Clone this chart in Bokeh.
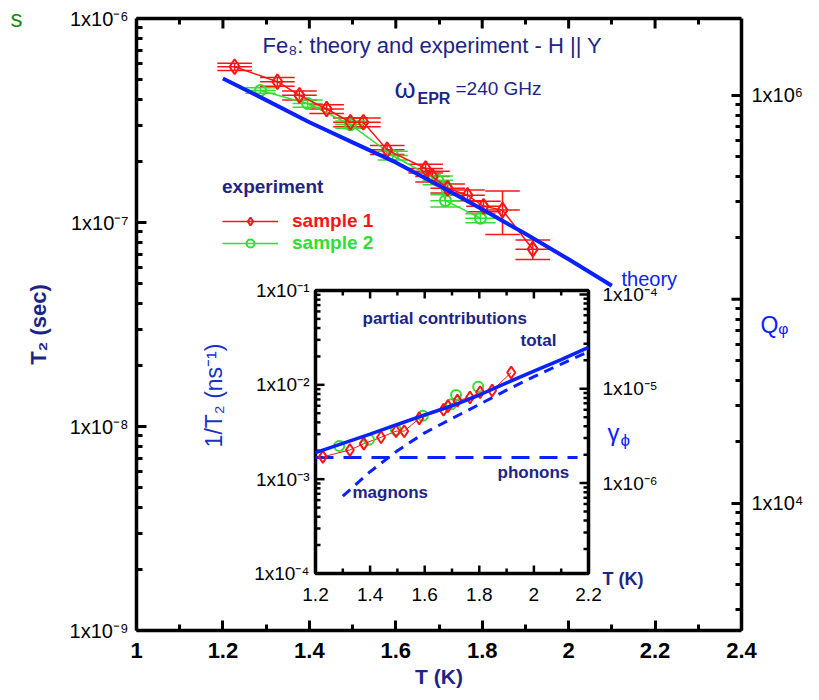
import numpy as np
from bokeh.plotting import figure
from bokeh.models import (Range1d, LogAxis, LinearAxis, FixedTicker, CustomJSTickFormatter,
                          Legend, LegendItem, LogScale)
from bokeh.core.properties import value
from bokeh.embed import file_html
from bokeh.resources import INLINE

# ---------------- data ----------------
s1_T = [1.227, 1.326, 1.377, 1.440, 1.495, 1.525, 1.580, 1.669, 1.685, 1.720, 1.766, 1.803, 1.847, 1.917]
s1_T2 = [5.8e-7, 4.9e-7, 4.2e-7, 3.6e-7, 3.1e-7, 3.1e-7, 2.27e-7, 1.84e-7, 1.68e-7, 1.47e-7, 1.36e-7, 1.2e-7, 1.15e-7, 7.4e-8]
s1_rel_err = [0.04, 0.05, 0.05, 0.05, 0.05, 0.05, 0.05, 0.05, 0.06, 0.05, 0.06, 0.06, 0.24, 0.11]
s1_dT = 0.04

s2_T = [1.287, 1.396, 1.495, 1.593, 1.697, 1.715, 1.796]
s2_T2 = [4.44e-7, 3.83e-7, 3.02e-7, 2.13e-7, 1.61e-7, 1.28e-7, 1.05e-7]
s2_rel_err = [0.03, 0.04, 0.04, 0.05, 0.05, 0.07, 0.05]
s2_dT = 0.035

theory_T = [1.2, 1.3, 1.4, 1.5, 1.6, 1.7, 1.8, 1.9, 2.0, 2.1]
theory_T2 = [5.08e-7, 3.98e-7, 3.1e-7, 2.47e-7, 1.97e-7, 1.52e-7, 1.16e-7, 8.8e-8, 6.6e-8, 4.9e-8]

inset_T = [1.2, 1.3, 1.4, 1.5, 1.6, 1.7, 1.8, 1.9, 2.0, 2.1, 2.2]
inset_total = [1.91e-3, 2.4e-3, 3.0e-3, 3.8e-3, 4.8e-3, 6.0e-3, 7.8e-3, 1.05e-2, 1.4e-2, 1.85e-2, 2.49e-2]
magnon_T = [1.3, 1.4, 1.5, 1.6, 1.7, 1.8, 1.9, 2.0, 2.1, 2.2]
magnon_rate = [6.6e-4, 1.2e-3, 2.0e-3, 3.1e-3, 4.4e-3, 6.2e-3, 8.8e-3, 1.22e-2, 1.66e-2, 2.25e-2]
phonon_T = [1.2, 2.16]
phonon_rate = [1.7e-3, 1.7e-3]

Q_PER_T2 = 2.38e12        # Q_phi scale factor (right axis)
GAMMA_PER_RATE = 1.1e-3   # gamma_phi scale factor (inset right axis)

main_x_ticks = [1.0, 1.2, 1.4, 1.6, 1.8, 2.0, 2.2, 2.4]
main_x_minor = [1.1, 1.3, 1.5, 1.7, 1.9, 2.1, 2.3]
main_y_ticks = [1e-9, 1e-8, 1e-7, 1e-6]
q_labelled = [1e4, 1e6]
q_unlabelled = [1e5]
inset_x_ticks = [1.2, 1.4, 1.6, 1.8, 2.0, 2.2]
inset_x_minor = [1.3, 1.5, 1.7, 1.9, 2.1]
inset_y_ticks = [1e-4, 1e-3, 1e-2, 1e-1]
gamma_ticks = [1e-6, 1e-5, 1e-4]

# ---------------- layout constants (pixels) ----------------
W, H = 819, 700
FL, FR, FT, FB = 136, 741, 18, 630
IL, IR, IT, IB = 315, 588, 290, 573

NAVY = "#1c2585"
BLUE = "#0a22ff"
RED = "#ff1414"
GREEN = "#33dd33"
FONT = value("Liberation Sans")
LW = 3.5

SUP = {"-": "\u207b", "0": "\u2070", "1": "\u00b9", "2": "\u00b2", "3": "\u00b3",
       "4": "\u2074", "5": "\u2075", "6": "\u2076", "7": "\u2077", "8": "\u2078", "9": "\u2079"}


def pow_label(v):
    e = int(round(np.log10(v)))
    return "1x10" + "".join(SUP[c] for c in str(e))


def minor_logs(lo_exp, hi_exp):
    return [k * 10.0 ** e for e in range(lo_exp, hi_exp) for k in range(2, 10)]


x0, x1 = 1.0, 2.4
y0, y1 = 1e-9, 1e-6


def mx(px):
    return x0 + (px - FL) / (FR - FL) * (x1 - x0)


def my(py):
    return 10 ** (np.log10(y1) - (py - FT) / (FB - FT) * (np.log10(y1) - np.log10(y0)))


# inset ranges mapped over the full frame
ipx = (IR - IL) / (2.2 - 1.2)
ix_start = 1.2 - (IL - FL) / ipx
ix_end = 2.2 + (FR - IR) / ipx
dec_px = (IB - IT) / 3.0
iy_top = -1 + (IT - FT) / dec_px
iy_bot = -4 - (FB - IB) / dec_px

p = figure(width=W, height=H, x_range=Range1d(x0, x1), y_range=Range1d(y0, y1),
           y_axis_type="log", output_backend="svg", toolbar_location=None,
           min_border_left=FL, min_border_right=W - FR, min_border_top=FT,
           min_border_bottom=H - FB)
p.outline_line_color = None
p.xgrid.visible = False
p.ygrid.visible = False
p.background_fill_color = "white"

p.extra_x_ranges = {"ix": Range1d(ix_start, ix_end)}
p.extra_y_ranges = {"Q": Range1d(y0 * Q_PER_T2, y1 * Q_PER_T2),
                    "iy": Range1d(10 ** iy_bot, 10 ** iy_top),
                    "ig": Range1d(10 ** iy_bot * GAMMA_PER_RATE, 10 ** iy_top * GAMMA_PER_RATE)}
p.extra_y_scales = {"Q": LogScale(), "iy": LogScale(), "ig": LogScale()}

pow_js = """
const sup = {"-":"\u207b","0":"\u2070","1":"\u00b9","2":"\u00b2","3":"\u00b3","4":"\u2074","5":"\u2075","6":"\u2076","7":"\u2077","8":"\u2078","9":"\u2079"};
const e = Math.round(Math.log10(tick));
return "1x10" + String(e).split("").map(c => sup[c]).join("");
"""


def style_axis(ax):
    ax.axis_line_width = LW
    ax.axis_line_color = "black"
    ax.major_tick_in = 10
    ax.major_tick_out = 0
    ax.minor_tick_in = 6
    ax.minor_tick_out = 0
    ax.major_tick_line_width = 3
    ax.minor_tick_line_width = 3
    ax.major_label_text_font = "Liberation Sans"
    ax.major_label_text_color = "black"


# bottom axis
xa = p.xaxis[0]
xa.ticker = FixedTicker(ticks=main_x_ticks, minor_ticks=main_x_minor)
xa.formatter = CustomJSTickFormatter(code="return String(Math.round(tick*10)/10);")
style_axis(xa)
xa.major_label_text_font_size = "22px"
xa.major_label_text_font_style = "bold"
xa.major_label_standoff = 12
xa.axis_label = "T (K)"
xa.axis_label_text_font = "Liberation Sans"
xa.axis_label_text_font_size = "21px"
xa.axis_label_text_font_style = "bold"
xa.axis_label_text_color = NAVY
xa.axis_label_standoff = 4

# left axis
ya = p.yaxis[0]
ya.ticker = FixedTicker(ticks=main_y_ticks, minor_ticks=minor_logs(-9, -6))
ya.formatter = CustomJSTickFormatter(code=pow_js)
style_axis(ya)
ya.major_label_text_font_size = "20px"
ya.major_label_standoff = 8
ya.axis_label = "T\u2082 (sec)"
ya.axis_label_text_font = "Liberation Sans"
ya.axis_label_text_font_size = "22px"
ya.axis_label_text_font_style = "bold"
ya.axis_label_text_color = NAVY
ya.axis_label_standoff = 16

# outer left axis that only carries the cropped green letter at the top-left corner
sa = LinearAxis(ticker=FixedTicker(ticks=[], minor_ticks=[]), axis_line_color=None,
                major_tick_line_color=None, minor_tick_line_color=None,
                axis_label="s", axis_label_text_color="#1a8a1a",
                axis_label_text_font="Liberation Sans", axis_label_text_font_size="24px",
                axis_label_text_font_style="normal", axis_label_standoff=0,
                axis_label_orientation="horizontal", axis_label_align="end")
p.add_layout(sa, "left")

# top axis: minor ticks only (major ones drawn as rays below)
ta = LinearAxis(ticker=FixedTicker(ticks=[], minor_ticks=main_x_minor))
style_axis(ta)
ta.major_label_standoff = 0
p.add_layout(ta, "above")

# right axis: Q_phi
qa = LogAxis(y_range_name="Q", ticker=FixedTicker(ticks=q_labelled, minor_ticks=minor_logs(3, 6)))
qa.formatter = CustomJSTickFormatter(code=pow_js)
style_axis(qa)
qa.major_label_text_font_size = "20px"
qa.major_label_standoff = 10
qa.axis_label = "Q\u1d69"
qa.axis_label_text_font = "Liberation Sans"
qa.axis_label_text_font_size = "23px"
qa.axis_label_text_font_style = "normal"
qa.axis_label_text_color = BLUE
qa.axis_label_orientation = "horizontal"
qa.axis_label_standoff = -46
p.add_layout(qa, "right")

tick_ray = dict(line_color="black", line_width=3, length_units="screen")
p.ray(x=main_x_ticks, y=[y1] * len(main_x_ticks), length=10, angle=-np.pi / 2, **tick_ray)
p.ray(x=[x1] * len(q_unlabelled), y=q_unlabelled, length=10, angle=np.pi, y_range_name="Q", **tick_ray)

# ---------------- main data ----------------
s1T = np.array(s1_T); s1y = np.array(s1_T2); s1e = np.array(s1_rel_err)
s2T = np.array(s2_T); s2y = np.array(s2_T2); s2e = np.array(s2_rel_err)

for T, y, e, dT, col in [(s1T, s1y, s1e, s1_dT, RED), (s2T, s2y, s2e, s2_dT, GREEN)]:
    lo, hi = y * (1 - e), y * (1 + e)
    p.segment(x0=T - dT, y0=y, x1=T + dT, y1=y, line_color=col, line_width=1.5)
    p.segment(x0=T, y0=lo, x1=T, y1=hi, line_color=col, line_width=1.5)
    p.segment(x0=T - dT, y0=lo, x1=T + dT, y1=lo, line_color=col, line_width=1.5)
    p.segment(x0=T - dT, y0=hi, x1=T + dT, y1=hi, line_color=col, line_width=1.5)

l2 = p.line(s2T, s2y, line_color=GREEN, line_width=1.5)
m2 = p.scatter(s2T, s2y, marker="circle", size=11, line_color=GREEN, fill_color=None, line_width=2)
l1 = p.line(s1T, s1y, line_color=RED, line_width=1.5)
m1 = p.scatter(s1T, s1y, marker="diamond", size=15, line_color=RED, fill_color=None, line_width=2)

p.line(theory_T, theory_T2, line_color=BLUE, line_width=4)

# ---------------- inset ----------------
R = dict(x_range_name="ix", y_range_name="iy")
p.quad(left=[1.2], right=[2.2], bottom=[1e-4], top=[1e-1], fill_color="white",
       line_color="black", line_width=LW, **R)

ink = dict(line_color="black", line_width=2.5, length_units="screen")
p.ray(x=inset_x_ticks, y=[1e-4] * len(inset_x_ticks), length=8, angle=np.pi / 2, **ink, **R)
p.ray(x=inset_x_minor, y=[1e-4] * len(inset_x_minor), length=5, angle=np.pi / 2, **ink, **R)
p.ray(x=inset_x_ticks, y=[1e-1] * len(inset_x_ticks), length=8, angle=-np.pi / 2, **ink, **R)
p.ray(x=inset_x_minor, y=[1e-1] * len(inset_x_minor), length=5, angle=-np.pi / 2, **ink, **R)
p.ray(x=[1.2] * len(inset_y_ticks), y=inset_y_ticks, length=9, angle=0, **ink, **R)
iy_minor = minor_logs(-4, -1)
p.ray(x=[1.2] * len(iy_minor), y=iy_minor, length=5, angle=0, **ink, **R)
G = dict(x_range_name="ix", y_range_name="ig")
p.ray(x=[2.2] * len(gamma_ticks), y=gamma_ticks, length=9, angle=np.pi, **ink, **G)
g_minor = minor_logs(-7, -4)
p.ray(x=[2.2] * len(g_minor), y=g_minor, length=5, angle=np.pi, **ink, **G)

p.line(phonon_T, phonon_rate, line_color=BLUE, line_width=3, line_dash="18 10", **R)
p.line(magnon_T, magnon_rate, line_color=BLUE, line_width=3, line_dash="10 7", **R)

i1 = 1e-9 / s1y
i2 = 1e-9 / s2y
p.line(s1T, i1, line_color=RED, line_width=1, **R)
p.scatter(s2T, i2, marker="circle", size=10, line_color=GREEN, fill_color=None, line_width=2, **R)
p.scatter(s1T, i1, marker="diamond", size=12, line_color=RED, fill_color=None, line_width=2, **R)
p.line(inset_T, inset_total, line_color=BLUE, line_width=3.5, **R)

# inset tick labels
p.text(x=inset_x_ticks, y=[1e-4] * len(inset_x_ticks),
       text=[("%.1f" % t).rstrip("0").rstrip(".") for t in inset_x_ticks],
       y_offset=14, text_align="center", text_baseline="top", text_font=FONT,
       text_font_size="19px", text_color="black", **R)
p.text(x=[1.2] * len(inset_y_ticks), y=inset_y_ticks, text=[pow_label(v) for v in inset_y_ticks],
       x_offset=-6, text_align="right", text_baseline="middle", text_font=FONT,
       text_font_size="19px", text_color="black", **R)
p.text(x=[2.2] * len(gamma_ticks), y=gamma_ticks, text=[pow_label(v) for v in gamma_ticks],
       x_offset=14, text_align="left", text_baseline="middle", text_font=FONT,
       text_font_size="19px", text_color="black", **G)


# ---------------- texts ----------------
def txt(xp, yp, s, size, color, style="normal", align="left", angle=0.0):
    p.text(x=[mx(xp)], y=[my(yp)], text=[s], text_font=FONT, text_font_size=f"{size}px",
           text_font_style=style, text_color=color, text_align=align,
           text_baseline="middle", angle=angle)


txt(262, 45, "Fe\u2088: theory and experiment - H || Y", 22, NAVY)
txt(394, 88, "\u03c9", 27, NAVY)
txt(417, 98, "EPR", 16, NAVY, "bold")
txt(455, 88, "=240 GHz", 19, NAVY)
txt(621, 278, "theory", 20, BLUE)
txt(362, 318, "partial contributions", 17, NAVY, "bold")
txt(520, 340, "total", 17, NAVY, "bold")
txt(497, 472, "phonons", 17, NAVY, "bold")
txt(352, 492, "magnons", 17, NAVY, "bold")
txt(602, 578, "T (K)", 18, NAVY, "bold")
txt(607, 432, "\u03b3", 24, BLUE)
txt(620, 440, "\u03d5", 17, BLUE)
txt(213, 395, "1/T\u2082 (ns\u207b\u00b9)", 23, "#1a30c8", angle=np.pi / 2, align="center")

# ---------------- legends ----------------
common = dict(glyph_width=56, glyph_height=20, label_standoff=14, padding=0, spacing=0,
              margin=0, border_line_color=None, background_fill_alpha=0,
              label_text_font="Liberation Sans", label_text_font_size="19px",
              label_text_font_style="bold", label_height=20)
leg1 = Legend(items=[LegendItem(label="sample 1", renderers=[l1, m1])], location=(86, 398),
              title="experiment", title_text_color=NAVY, title_text_font="Liberation Sans",
              title_text_font_size="19px", title_text_font_style="bold", title_standoff=12,
              label_text_color=RED, **common)
leg2 = Legend(items=[LegendItem(label="sample 2", renderers=[l2, m2])], location=(86, 376),
              label_text_color=GREEN, **common)
p.add_layout(leg1, "center")
p.add_layout(leg2, "center")

open("out.html", "w").write(file_html(p, INLINE))
